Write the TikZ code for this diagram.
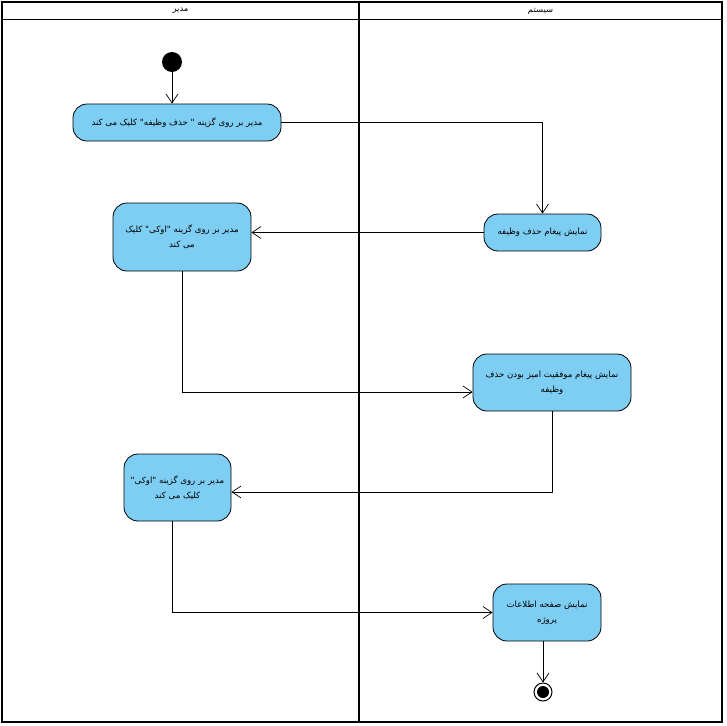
\documentclass[tikz,border=0pt]{standalone}
\usepackage{fontspec}
\usepackage{tikz}
\usetikzlibrary{arrows.meta,positioning}
\TeXXeTstate=1
\newfontfamily\arabicfont[Script=Arabic]{DejaVu Sans}
\newcommand{\fa}[1]{\beginR #1\endR}
\definecolor{actblue}{RGB}{126,206,244}
\tikzstyle{action} = [rectangle, draw, line width=0.8pt, fill=actblue, rounded corners=14pt, align=center, inner sep=0pt, font=\arabicfont\fontsize{8.6}{15}\selectfont]
\tikzstyle{line} = [draw, line width=0.7pt, -{Straight Barb[length=9pt,width=12pt]}]
\tikzstyle{lane} = [draw, line width=1.4pt]
\tikzstyle{lanetitle} = [font=\arabicfont\fontsize{8.4}{10}\selectfont]

\begin{document}
\begin{tikzpicture}[x=1pt, y=-1pt]
			\useasboundingbox (0,0) rectangle (726,726);
			% swimlanes
			\draw [lane] (2,2) rectangle (722,722);
			\draw [line width=0.8pt] (2,19) -- (722,19);
			\draw [line width=2.4pt] (359,2) -- (359,722);
			\node [lanetitle] (managerlane) at (180.5,11) {\fa{مدیر}};
			\node [lanetitle] (systemlane) at (540.5,11) {\fa{سیستم}};
			% states
			\node [circle, fill=black, minimum size=20pt, inner sep=0pt] (start) at (172,62) {};
			\node [action, minimum width=208pt, minimum height=37pt] (clickdelete) at (177,122.5) {\fa{مدیر بر روی گزینه " حذف وظیفه" کلیک می کند}};
			\node [action, minimum width=117pt, minimum height=37pt] (showdelete) at (542.5,232.5) {\fa{نمایش پیغام حذف وظیفه}};
			\node [action, minimum width=138pt, minimum height=68pt] (clickok) at (182,237) {\fa{مدیر بر روی گزینه "اوکی" کلیک}\\\fa{می کند}};
			\node [action, minimum width=158pt, minimum height=57pt] (showsuccess) at (552,382.5) {\fa{نمایش پیغام موفقیت امیز بودن حذف}\\\fa{وظیفه}};
			\node [action, minimum width=107pt, minimum height=67pt] (clickokagain) at (177.5,487.5) {\fa{مدیر بر روی گزینه "اوکی"}\\\fa{کلیک می کند}};
			\node [action, minimum width=108pt, minimum height=57pt] (showproject) at (547,612.5) {\fa{نمایش صفحه اطلاعات}\\\fa{پروژه}};
			\node [circle, draw, line width=1pt, minimum size=18pt, inner sep=0pt] (stop) at (543,692) {};
			\node [circle, fill=black, minimum size=12pt, inner sep=0pt] at (stop) {};
			% flows
			\path [line] (start) -- (start |- clickdelete.north);
			\path [line] (clickdelete) -| (showdelete);
			\path [line] (showdelete.west) -- (clickok.east |- showdelete.west);
			\path [line] (clickok) |- ([yshift=-9.5pt]showsuccess.west);
			\path [line] (showsuccess) |- ([yshift=-4.5pt]clickokagain.east);
			\path [line] ([xshift=-5.5pt]clickokagain.south) |- (showproject.west);
			\path [line] (stop |- showproject.south) -- (stop);
		\end{tikzpicture}
\end{document}
